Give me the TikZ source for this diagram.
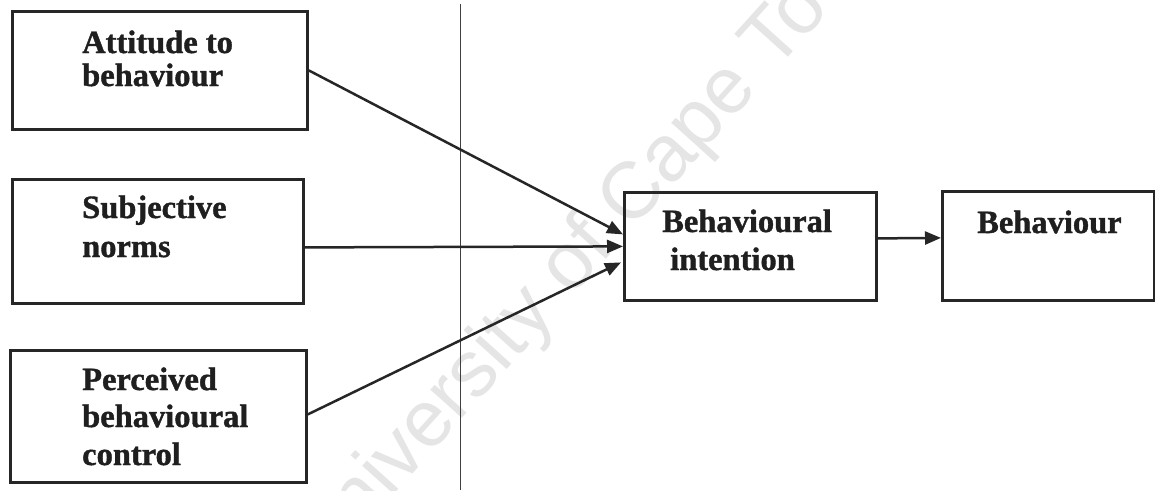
\documentclass[tikz,border=0pt]{standalone}
\usepackage{fontspec}
\setmainfont{Liberation Serif}[BoldFeatures={FakeBold=1.2}]
\newfontfamily\wmfont{Liberation Sans}
\usetikzlibrary{arrows.meta}
\begin{document}
\begin{tikzpicture}[x=1pt,y=-1pt,
  box/.style={draw=black!85, line width=2.8pt, rectangle, inner sep=0pt, anchor=north west},
  lbl/.style={anchor=base west, inner sep=0pt, font=\fontsize{32.5}{38}\selectfont\bfseries, text=black!88},
  conn/.style={draw=black!85, line width=2.5pt, -{Triangle[length=16pt,width=13pt]}},
  wm/.style={anchor=base west, inner sep=0pt, font=\wmfont\fontsize{80}{90}\selectfont, text=black!10},
  scanline/.style={draw=black!75, line width=1pt}]
\useasboundingbox (0,0) rectangle (1155,490);
\clip (0,0) rectangle (1155,490);
\fill[white] (0,0) rectangle (1155,490);
% watermark
\node[wm, rotate=48] (wmk) at (322,575) {University of Cape Town};
% thin scan line
\coordinate (vt) at (460,4);
\coordinate (vb) at (460,490);
\draw[scanline] (vt) -- (vb);
% boxes
\node[box, minimum width=295pt, minimum height=118pt] (att) at (11,10) {};
\node[box, minimum width=291pt, minimum height=124pt] (sn) at (11,178) {};
\node[box, minimum width=296pt, minimum height=132pt] (pbc) at (9,349) {};
\node[box, minimum width=252pt, minimum height=108pt] (bi) at (623,191) {};
\node[box, minimum width=212pt, minimum height=109pt] (beh) at (941,190) {};
% labels
\node[lbl] (att1) at (82,53) {Attitude to};
\node[lbl] (att2) at (82,86) {behaviour};
\node[lbl] (sn1) at (82,218) {Subjective};
\node[lbl] (sn2) at (82,257) {norms};
\node[lbl] (pbc1) at (82,390) {Perceived};
\node[lbl] (pbc2) at (82,427) {behavioural};
\node[lbl] (pbc3) at (82,465) {control};
\node[lbl] (bi1) at (662,232) {Behavioural};
\node[lbl] (bi2) at (670,270) {intention};
\node[lbl] (beh1) at (977,233) {Behaviour};
% connectors
\draw[conn] (att.east) -- ([yshift=12pt]bi.west);
\draw[conn] ([yshift=-6pt]sn.east) -- ([yshift=0pt]bi.west);
\draw[conn] ([yshift=2pt]pbc.east) -- ([xshift=-2pt,yshift=-16pt]bi.west);
\draw[conn] ([yshift=8pt]bi.east) -- ([yshift=8pt]beh.west);
\end{tikzpicture}
\end{document}
